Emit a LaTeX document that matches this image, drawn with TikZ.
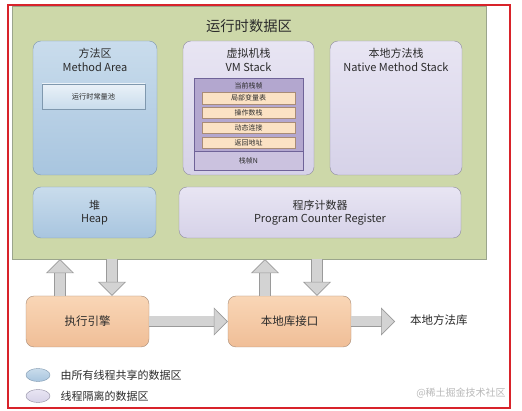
\documentclass[tikz,border=0pt]{standalone}
\usepackage{fontspec}
\setmainfont{Noto Sans CJK SC}
\usepackage{tikz}
\usetikzlibrary{shapes.geometric, arrows.meta, positioning, calc}
\definecolor{PanelGreen}{HTML}{CDD8A9}
\definecolor{PanelEdge}{HTML}{9BA58C}
\definecolor{SharedTop}{HTML}{C9DCEC}
\definecolor{SharedBottom}{HTML}{A8C5DF}
\definecolor{SharedEdge}{HTML}{7F98AE}
\definecolor{PrivateTop}{HTML}{E8E5F3}
\definecolor{PrivateBottom}{HTML}{D6D2E8}
\definecolor{PrivateEdge}{HTML}{8F8CA0}
\definecolor{FramePurple}{HTML}{B3A7CF}
\definecolor{FrameLight}{HTML}{CBC2DF}
\definecolor{FrameEdge}{HTML}{6F6398}
\definecolor{SlotFill}{HTML}{FBE2C4}
\definecolor{SlotEdge}{HTML}{A98C76}
\definecolor{EngineTop}{HTML}{F9D6B6}
\definecolor{EngineBottom}{HTML}{F0BE97}
\definecolor{EngineEdge}{HTML}{A98C76}
\definecolor{ArrowFill}{HTML}{D3D3D3}
\definecolor{ArrowEdge}{HTML}{9A9A9A}
\definecolor{FrameRed}{HTML}{D8232A}
\definecolor{TextGray}{HTML}{2B2B2B}
\tikzset{
  % Box styles
  panelbox/.style={rectangle, draw=PanelEdge, fill=PanelGreen, minimum width=474pt, minimum height=253pt},
  sharedbox/.style={rectangle, rounded corners=8pt, draw=SharedEdge, top color=SharedTop, bottom color=SharedBottom, font=\fontsize{11}{13.5}\selectfont, align=center},
  privatebox/.style={rectangle, rounded corners=8pt, draw=PrivateEdge, top color=PrivateTop, bottom color=PrivateBottom, font=\fontsize{11}{13.5}\selectfont, align=center},
  poolbox/.style={rectangle, draw=SharedEdge, top color=white!60!SharedTop, bottom color=SharedTop, minimum width=103pt, minimum height=25pt, font=\fontsize{7.2}{8}\selectfont},
  framebox/.style={rectangle, draw=FrameEdge, fill=FramePurple, minimum width=109pt, inner sep=0pt},
  slotbox/.style={rectangle, draw=SlotEdge, fill=SlotFill, minimum width=93pt, minimum height=11.5pt, inner sep=0pt, font=\fontsize{7}{8}\selectfont},
  enginebox/.style={rectangle, rounded corners=8pt, draw=EngineEdge, top color=EngineTop, bottom color=EngineBottom, minimum width=123pt, minimum height=51pt, font=\fontsize{11.5}{13}\selectfont},
  legendmark/.style={ellipse, minimum width=24pt, minimum height=13pt, inner sep=0pt},
  boxtitle/.style={anchor=north, yshift=-4pt, align=center, font=\fontsize{11}{13.5}\selectfont},
  % Arrow styles
  bigarrow/.style={draw=ArrowFill, line width=10pt, -{Triangle[width=28pt, length=14pt, fill=ArrowFill, color=ArrowEdge, line width=0.6pt]}, preaction={-, draw=ArrowEdge, line width=11.2pt, shorten >=13pt}}
}
\begin{document}
\begin{tikzpicture}[x=1pt, y=-1pt, text=TextGray]
  \useasboundingbox (0,0) rectangle (522,411);
  \fill[white] (0,0) rectangle (522,411);

  % Runtime data area
  \node[panelbox] (panel) at (249,132.5) {};
  \node[font=\fontsize{14.3}{16}\selectfont] (title) at (249,26) {运行时数据区};

  \node[sharedbox, minimum width=124pt, minimum height=134pt,
    label={[boxtitle]north:{方法区\\Method Area}}] (method) at (95,108) {};
  \node[poolbox] (pool) at (93.5,96.5) {运行时常量池};

  \node[privatebox, minimum width=131pt, minimum height=134pt,
    label={[boxtitle]north:{虚拟机栈\\VM Stack}}] (vm) at (248.5,108) {};
  \node[framebox, minimum height=92pt] (frame) at (248.5,124) {};
  \node[framebox, fill=FrameLight, minimum height=19pt, font=\fontsize{7}{8}\selectfont,
    anchor=south] (framen) at (frame.south) {栈帧N};
  \node[font=\fontsize{7}{8}\selectfont] (current) at (248.5,86) {当前栈帧};
  \node[slotbox] (s1) at (248.5,98) {局部变量表};
  \node[slotbox, below=3pt of s1] (s2) {操作数栈};
  \node[slotbox, below=3pt of s2] (s3) {动态连接};
  \node[slotbox, below=3pt of s3] (s4) {返回地址};

  \node[privatebox, minimum width=132pt, minimum height=134pt,
    label={[boxtitle]north:{本地方法栈\\Native Method Stack}}] (native) at (396,108) {};

  \node[sharedbox, minimum width=123pt, minimum height=51pt] (heap) at (94.5,212.5) {堆\\Heap};
  \node[privatebox, minimum width=282pt, minimum height=51pt] (pc) at (320,212.5) {程序计数器\\Program Counter Register};

  % Engine and native interface
  \node[enginebox] (engine) at (87.5,321.5) {执行引擎};
  \node[enginebox] (natif) at (289.5,321.5) {本地库接口};
  \node[font=\fontsize{11.5}{13}\selectfont, anchor=west, inner xsep=0pt, outer xsep=15pt] (lib) at (395,320) {本地方法库};

  \draw[bigarrow] ([xshift=-27.5pt]engine.north) -- ([xshift=-27.5pt]engine.north |- panel.south);
  \draw[bigarrow] ([xshift=24.5pt]engine.north |- panel.south) -- ([xshift=24.5pt]engine.north);
  \draw[bigarrow] ([xshift=-24.5pt]natif.north) -- ([xshift=-24.5pt]natif.north |- panel.south);
  \draw[bigarrow] ([xshift=27.5pt]natif.north |- panel.south) -- ([xshift=27.5pt]natif.north);
  \draw[bigarrow] (engine.east) -- (natif.west);
  \draw[bigarrow] (natif.east) -- (natif.east -| lib.west);

  % Legend
  \node[legendmark, draw=SharedEdge, top color=SharedTop, bottom color=SharedBottom] (keyshared) at (38,375) {};
  \node[legendmark, draw=PrivateEdge, top color=PrivateTop, bottom color=PrivateBottom] (keyprivate) at (38,396) {};
  \node[font=\fontsize{11}{13}\selectfont, right=7pt of keyshared] (txtshared) {由所有线程共享的数据区};
  \node[font=\fontsize{11}{13}\selectfont, right=7pt of keyprivate] (txtprivate) {线程隔离的数据区};
  \node[font=\fontsize{10}{12}\selectfont, text=gray!55] (mark) at (461,393) {@稀土掘金技术社区};

  \draw[FrameRed, line width=1.6pt] (8,5) rectangle (510,408);
\end{tikzpicture}
\end{document}
